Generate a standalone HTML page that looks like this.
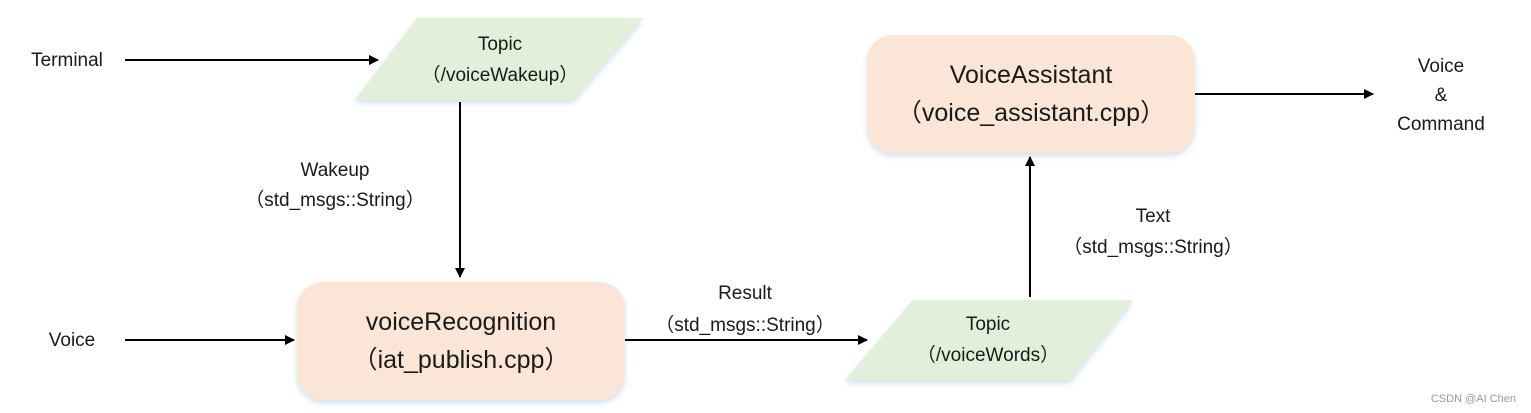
<!DOCTYPE html>
<html><head><meta charset="utf-8"><style>
html,body{margin:0;padding:0;background:#fff;width:1531px;height:413px;overflow:hidden}
text{font-family:"Liberation Sans","Noto Sans CJK SC",sans-serif;fill:#1a1a1a}
</style></head><body>
<svg width="1531" height="413" viewBox="0 0 1531 413" xmlns="http://www.w3.org/2000/svg">
<defs>
<marker id="a" markerWidth="10" markerHeight="10" refX="9" refY="5" orient="auto" markerUnits="userSpaceOnUse" viewBox="0 0 10 10">
<path d="M0,0 L10,5 L0,10 z" fill="#000"/></marker>
<filter id="s" x="-10%" y="-10%" width="120%" height="130%"><feDropShadow dx="0" dy="3" stdDeviation="3" flood-color="#9bb7d8" flood-opacity="0.45"/></filter>
</defs>
<!-- shapes -->
<polygon points="417,18 643,18 573,100 355,100" fill="#e2efda" filter="url(#s)"/>
<polygon points="913,300 1133,300 1070,380 845,380" fill="#e2efda" filter="url(#s)"/>
<rect x="297" y="282" width="328" height="118" rx="26" fill="#fbe5d6" filter="url(#s)"/>
<rect x="867" y="35" width="328" height="118" rx="26" fill="#fbe5d6" filter="url(#s)"/>
<!-- arrows -->
<g stroke="#000" stroke-width="2" fill="none">
<line x1="125" y1="60" x2="378" y2="60" marker-end="url(#a)"/>
<line x1="125" y1="340" x2="294" y2="340" marker-end="url(#a)"/>
<line x1="460" y1="102" x2="460" y2="277" marker-end="url(#a)"/>
<line x1="625" y1="340" x2="867" y2="340" marker-end="url(#a)"/>
<line x1="1030" y1="297" x2="1030" y2="157" marker-end="url(#a)"/>
<line x1="1195" y1="94" x2="1373" y2="94" marker-end="url(#a)"/>
</g>
<!-- labels -->
<g font-size="19" text-anchor="middle">
<text x="67" y="66">Terminal</text>
<text x="72" y="346">Voice</text>
<text x="500" y="50">Topic</text>
<text x="500" y="81">（/voiceWakeup）</text>
<text x="335" y="176">Wakeup</text>
<text x="335" y="206">（std_msgs::String）</text>
<text x="745" y="299">Result</text>
<text x="745" y="331">（std_msgs::String）</text>
<text x="988" y="330">Topic</text>
<text x="988" y="361">（/voiceWords）</text>
<text x="1153" y="222">Text</text>
<text x="1153" y="253">（std_msgs::String）</text>
<text x="1441" y="72">Voice</text>
<text x="1441" y="101">&amp;</text>
<text x="1441" y="130">Command</text>
</g>
<g font-size="25" text-anchor="middle">
<text x="461" y="330">voiceRecognition</text>
<text x="461" y="368">（iat_publish.cpp）</text>
<text x="1031" y="83">VoiceAssistant</text>
<text x="1031" y="121">（voice_assistant.cpp）</text>
</g>
<text x="1516" y="402" font-size="11" text-anchor="end" fill="#999" style="fill:#999">CSDN @AI Chen</text>
</svg>
</body></html>
